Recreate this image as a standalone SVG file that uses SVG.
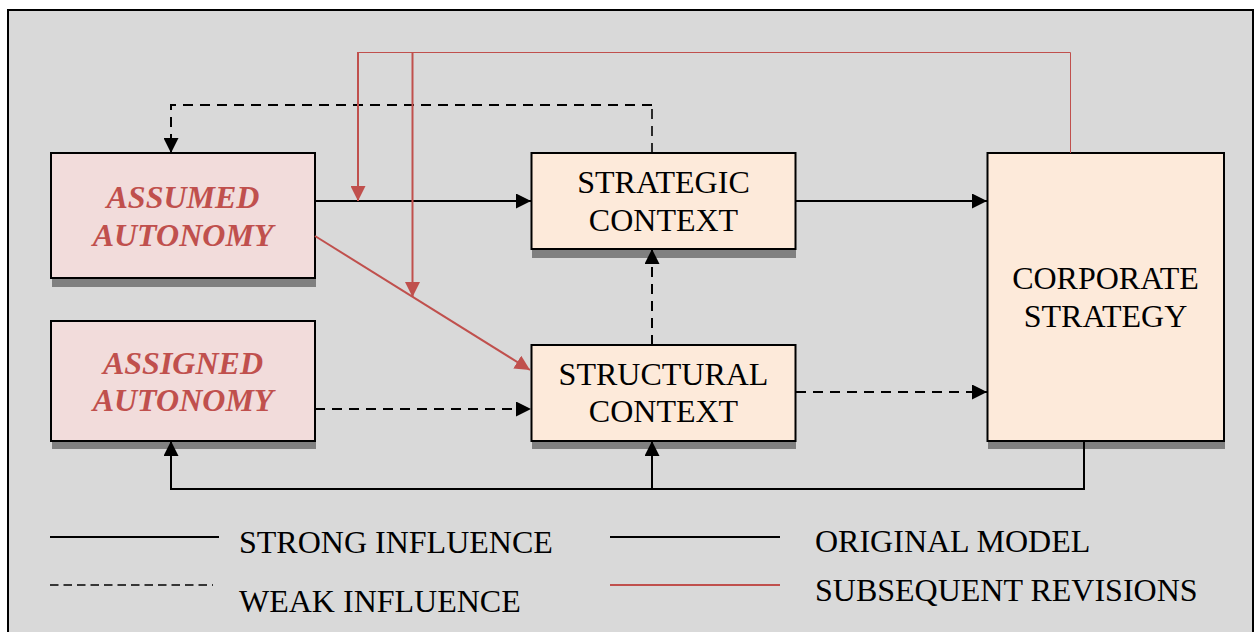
<svg xmlns="http://www.w3.org/2000/svg" width="1255" height="632" viewBox="0 0 1255 632">
  <style>
    .frame { fill: #d9d9d9; stroke: #000; stroke-width: 2; }
    .shadow { fill: #808080; }
    .box { stroke: #000; stroke-width: 2; }
    .auto { fill: #f2dcdb; }
    .ctx { fill: #fdeada; }
    .lbl { font-family: "Liberation Serif", "Times New Roman", serif; font-size: 32px; fill: #000; }
    .red-lbl { font-family: "Liberation Serif", "Times New Roman", serif; font-size: 32px; font-weight: bold; font-style: italic; fill: #c0504d; }
    .mid { text-anchor: middle; }
    .strong { fill: none; stroke: #000; stroke-width: 2; }
    .weak { fill: none; stroke: #000; stroke-width: 2; stroke-dasharray: 10 7; }
    .weak-thin { fill: none; stroke: #000; stroke-width: 1.6; stroke-dasharray: 10 7; }
    .rev { fill: none; stroke: #c0504d; stroke-width: 2; }
    .rev-thin { fill: none; stroke: #c0504d; stroke-width: 1; }
  </style>
  <defs>
    <marker id="arrow" markerUnits="userSpaceOnUse" markerWidth="15" markerHeight="15" refX="15" refY="7.5" orient="auto">
      <path d="M0,0 L15,7.5 L0,15 Z" fill="#000"/>
    </marker>
    <marker id="arrow-red" markerUnits="userSpaceOnUse" markerWidth="15" markerHeight="15" refX="15" refY="7.5" orient="auto">
      <path d="M0,0 L15,7.5 L0,15 Z" fill="#c0504d"/>
    </marker>
  </defs>

  <rect width="1255" height="632" fill="#fff"/>
  <rect class="frame" x="8" y="10" width="1245" height="640"/>

  <g id="assumed-autonomy">
    <rect class="shadow" x="52" y="153" width="264" height="134"/>
    <rect class="box auto" x="51" y="153" width="264" height="125"/>
    <text class="red-lbl mid" x="183" y="208">ASSUMED</text>
    <text class="red-lbl mid" x="183" y="245.5">AUTONOMY</text>
  </g>

  <g id="assigned-autonomy">
    <rect class="shadow" x="52" y="321" width="264" height="128"/>
    <rect class="box auto" x="51" y="321" width="264" height="120"/>
    <text class="red-lbl mid" x="183" y="374">ASSIGNED</text>
    <text class="red-lbl mid" x="183" y="410.5">AUTONOMY</text>
  </g>

  <g id="strategic-context">
    <rect class="shadow" x="532" y="153" width="264" height="105"/>
    <rect class="box ctx" x="531.5" y="153" width="264" height="96"/>
    <text class="lbl mid" x="663.5" y="193.3">STRATEGIC</text>
    <text class="lbl mid" x="663.5" y="231">CONTEXT</text>
  </g>

  <g id="structural-context">
    <rect class="shadow" x="532" y="345" width="264" height="104"/>
    <rect class="box ctx" x="531.5" y="345" width="264" height="96"/>
    <text class="lbl mid" x="663.5" y="385">STRUCTURAL</text>
    <text class="lbl mid" x="663.5" y="422.3">CONTEXT</text>
  </g>

  <g id="corporate-strategy">
    <rect class="shadow" x="988" y="153" width="237" height="296"/>
    <rect class="box ctx" x="987.5" y="153" width="236.5" height="288"/>
    <text class="lbl mid" x="1105.5" y="289.3">CORPORATE</text>
    <text class="lbl mid" x="1105.5" y="326.7">STRATEGY</text>
  </g>

  <g id="connectors">
    <!-- original model: strong influences -->
    <path class="strong" d="M315,201 H531" marker-end="url(#arrow)"/>
    <path class="strong" d="M796,201 H987" marker-end="url(#arrow)"/>
    <path class="strong" d="M1084,441 V489 H171 V441" marker-end="url(#arrow)"/>
    <path class="strong" d="M652,489 V441" marker-end="url(#arrow)"/>
    <!-- original model: weak influences -->
    <path class="weak-thin" d="M652,153 V105"/>
    <path class="weak" d="M652,105 H171 V153" marker-end="url(#arrow)"/>
    <path class="weak" d="M652,345 V249" marker-end="url(#arrow)"/>
    <path class="weak" d="M315,409 H531" marker-end="url(#arrow)"/>
    <path class="weak" d="M796,392 H987" marker-end="url(#arrow)"/>
    <!-- subsequent revisions -->
    <path class="rev-thin" d="M1070.5,153 V52.5 H357.5"/>
    <path class="rev" d="M358,52 V201" marker-end="url(#arrow-red)"/>
    <path class="rev" d="M412.5,52 V297" marker-end="url(#arrow-red)"/>
    <path class="rev" d="M315,236 L530,370" marker-end="url(#arrow-red)"/>
  </g>

  <g id="legend">
    <line x1="50" y1="537" x2="219" y2="537" stroke="#000" stroke-width="2"/>
    <line x1="50" y1="585" x2="213" y2="585" stroke="#000" stroke-width="1.6" stroke-dasharray="8.5 5"/>
    <text class="lbl" x="239" y="553.3">STRONG INFLUENCE</text>
    <text class="lbl" x="239" y="611.7">WEAK INFLUENCE</text>
    <line x1="610" y1="537" x2="780" y2="537" stroke="#000" stroke-width="2"/>
    <line x1="610" y1="585" x2="780" y2="585" stroke="#c0504d" stroke-width="2"/>
    <text class="lbl" x="815" y="551.7">ORIGINAL MODEL</text>
    <text class="lbl" x="815" y="601">SUBSEQUENT REVISIONS</text>
  </g>
</svg>
